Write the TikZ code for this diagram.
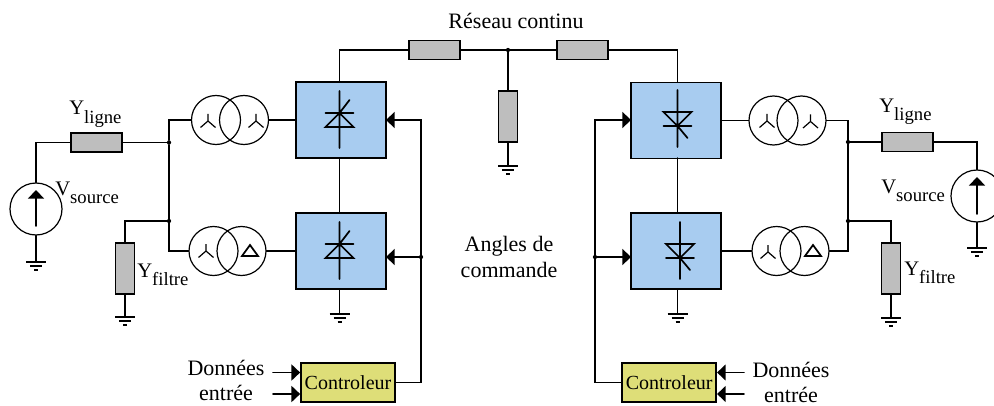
\documentclass[tikz,border=0pt]{standalone}
\usepackage{fontspec}
\setmainfont{Liberation Serif}
\usetikzlibrary{arrows.meta, calc}
\definecolor{convblue}{RGB}{168,204,240}
\definecolor{ctrlyellow}{RGB}{222,222,120}
\definecolor{resgray}{RGB}{190,190,190}
\newcommand{\lowsub}[2]{{\fontsize{15.5}{19}\selectfont #1}\raisebox{-6pt}{\fontsize{14}{16}\selectfont #2}}

\begin{document}
\begin{tikzpicture}[
  x=0.75pt, y=-0.75pt,
  wire/.style = {line width=1.3pt, line cap=round},
  thin wire/.style = {line width=0.9pt},
  arrow/.style = {wire, -{Triangle[length=6.5pt,width=12pt]}},
  conv/.style = {draw, line width=1.3pt, fill=convblue, minimum width=67.5pt, minimum height=57pt, inner sep=0pt},
  resh/.style = {draw, line width=1.3pt, fill=resgray, minimum width=38.25pt, minimum height=14.25pt, inner sep=0pt},
  resv/.style = {draw, line width=1.3pt, fill=resgray, minimum width=14.25pt, minimum height=38.25pt, inner sep=0pt},
  ctrl/.style = {draw, line width=1.3pt, fill=ctrlyellow, minimum width=70.5pt, minimum height=29.25pt, inner sep=0pt, font=\fontsize{15}{16}\selectfont},
  coil/.style = {draw, circle, thin wire, minimum size=36.75pt, inner sep=0pt},
  source/.style = {draw, circle, thin wire, minimum size=39pt, inner sep=0pt},
  junction/.style = {fill, circle, minimum size=3.2pt, inner sep=0pt},
  label/.style = {font=\fontsize{16.5}{19}\selectfont, align=center, inner sep=0pt}
]
  \useasboundingbox (0,0) rectangle (994,406);

  % Converter blocks
  \node[conv] (convA) at (341,120) {};
  \node[conv] (convB) at (341,251) {};
  \node[conv] (convC) at (676,120.5) {};
  \node[conv] (convD) at (676,251) {};

  % DC line
  \node[resh] (resdcA) at (434.5,50) {};
  \node[resh] (resdcB) at (582.5,50) {};
  \node[resv] (resdcM) at (508,116.5) {};
  \node[junction] (dcmid) at (508,50) {};
  \coordinate (gnddc) at (508,166);
  \draw[wire] (339.5,82) |- (resdcA.west);
  \draw[wire] (resdcA.east) -- (resdcB.west);
  \draw[wire] (resdcB.east) -| (677.5,82);
  \draw[wire] (dcmid) -- (resdcM.north);
  \draw[wire] (resdcM.south) -- (gnddc);
  \draw[wire] (339.5,158) -- (339.5,213);
  \draw[wire] (677.5,158) -- (677.5,213);

  % Left transformers
  \node[coil] (coilAa) at (216,120) {};
  \node[coil] (coilAb) at (244,120) {};
  \node[coil] (coilBa) at (213.5,251) {};
  \node[coil] (coilBb) at (241.5,251) {};

  % Right transformers
  \node[coil] (coilCa) at (773.5,120.5) {};
  \node[coil] (coilCb) at (801.5,120.5) {};
  \node[coil] (coilDa) at (776.5,251) {};
  \node[coil] (coilDb) at (804.5,251) {};

  % Wye windings
  \foreach \x/\y in {208/121, 256/121, 206/251, 767/121, 810.5/121.5, 768/252}
    \draw[thin wire] (\x,\y) -- ++(0,-7) (\x,\y) -- ++(-7.5,6.5) (\x,\y) -- ++(7.5,6.5);

  % Delta windings
  \foreach \x/\y in {250/245, 813/245}
    \draw[wire] (\x,\y) -- ++(-8,11) -- ++(16,0) -- cycle;

  % Left AC side
  \node[source] (srcL) at (36,209) {};
  \node[resh] (resL) at (96.5,142.5) {};
  \node[resv] (filtL) at (125,268.5) {};
  \node[junction] (jAL) at (169,142.5) {};
  \node[junction] (jBL) at (169,221) {};
  \coordinate (gndsrcL) at (36,262);
  \coordinate (gndfiltL) at (125,317);
  \draw[wire] (srcL.north) |- (resL.west);
  \draw[wire] (resL.east) -- (jAL);
  \draw[wire] (coilAa.west) -| (jAL) -- (jBL) |- (coilBa.west);
  \draw[wire] (jBL) -| (filtL.north);
  \draw[wire] (filtL.south) -- (gndfiltL);
  \draw[wire] (srcL.south) -- (gndsrcL);
  \draw[wire] (coilAb.east) -- (convA.west);
  \draw[wire] (coilBb.east) -- (convB.west);

  % Right AC side
  \node[source] (srcR) at (977,196) {};
  \node[resh] (resR) at (907.5,142) {};
  \node[resv] (filtR) at (891,268.5) {};
  \node[junction] (jAR) at (848,142) {};
  \node[junction] (jBR) at (848,221) {};
  \coordinate (gndsrcR) at (977,248);
  \coordinate (gndfiltR) at (891,318);
  \draw[wire] (resR.east) -| (srcR.north);
  \draw[wire] (jAR) -- (resR.west);
  \draw[wire] (coilCb.east) -| (jAR) -- (jBR) |- (coilDb.east);
  \draw[wire] (jBR) -| (filtR.north);
  \draw[wire] (filtR.south) -- (gndfiltR);
  \draw[wire] (srcR.south) -- (gndsrcR);
  \draw[wire] (convC.east) -- (coilCa.west);
  \draw[wire] (convD.east) -- (coilDa.west);

  % Source arrows
  \draw[arrow] (36,226) -- (36,190);
  \draw[arrow] (977,214) -- (977,177);

  % Grounds
  \coordinate (gndA) at (339.5,314);
  \coordinate (gndB) at (677.5,314);
  \draw[wire] (339.5,289) -- (gndA);
  \draw[wire] (677.5,289) -- (gndB);
  \foreach \g in {gnddc, gndsrcL, gndfiltL, gndsrcR, gndfiltR, gndA, gndB}
    \draw[thin wire] ($(\g)+(-10,0)$) -- ++(20,0) ($(\g)+(-6,4)$) -- ++(12,0) ($(\g)+(-2,8)$) -- ++(4,0);

  % Thyristors pointing up
  \foreach \x/\y in {339.5/91, 339.5/222}
    \draw[wire] (\x,\y) -- ++(0,57) ($(\x,\y)+(-14,22)$) -- ++(28,0) ($(\x,\y)+(0,22)$) -- ++(-14,14) -- ++(28,0) -- cycle ($(\x,\y)+(0,22)$) -- ++(10,-13);

  % Thyristors pointing down
  \foreach \x/\y in {677.5/90, 680/222}
    \draw[wire] (\x,\y) -- ++(0,57) ($(\x,\y)+(-14,22)$) -- ++(28,0) -- ++(-14,14) -- cycle ($(\x,\y)+(-14,36)$) -- ++(28,0) ($(\x,\y)+(0,36)$) -- ++(10,12);

  % Controllers
  \node[ctrl] (ctrlL) at (348,382.5) {Controleur};
  \node[ctrl] (ctrlR) at (669.2,382.5) {Controleur};
  \node[junction] (jctrlL) at (421,257) {};
  \node[junction] (jctrlR) at (595,257) {};
  \coordinate (tipA) at (386,120);
  \coordinate (tipB) at (386,257);
  \coordinate (tipC) at (631,120);
  \coordinate (tipD) at (631,257);
  \draw[arrow] (ctrlL.east) -| (jctrlL) |- (tipA);
  \draw[arrow] (jctrlL) -- (tipB);
  \draw[arrow] (ctrlR.west) -| (jctrlR) |- (tipC);
  \draw[arrow] (jctrlR) -- (tipD);

  % Controller inputs
  \coordinate (inLa) at (273,372.5);
  \coordinate (inLb) at (273,394);
  \coordinate (inRa) at (744,372.5);
  \coordinate (inRb) at (744,394);
  \draw[arrow] (inLa) -- (inLa -| ctrlL.west);
  \draw[arrow] (inLb) -- (inLb -| ctrlL.west);
  \draw[arrow] (inRa) -- (inRa -| ctrlR.east);
  \draw[arrow] (inRb) -- (inRb -| ctrlR.east);

  % Labels
  \node[label] (lbldc) at (516,21) {Réseau continu};
  \node[label] (lblangle) at (509,257) {Angles de\\commande};
  \node[label] (lbldataL) at (226,380.5) {Données\\entrée};
  \node[label] (lbldataR) at (791,382.5) {Données\\entrée};
  \node[label, anchor=base west] (lblresL) at (69,115) {\lowsub{Y}{ligne}};
  \node[label, anchor=base west] (lblresR) at (879,113) {\lowsub{Y}{ligne}};
  \node[label, anchor=base west] (lblsrcL) at (55,195) {\lowsub{V}{source}};
  \node[label, anchor=base west] (lblsrcR) at (881,193) {\lowsub{V}{source}};
  \node[label, anchor=base west] (lblfiltL) at (137,277) {\lowsub{Y}{filtre}};
  \node[label, anchor=base west] (lblfiltR) at (904,275) {\lowsub{Y}{filtre}};
\end{tikzpicture}
\end{document}
